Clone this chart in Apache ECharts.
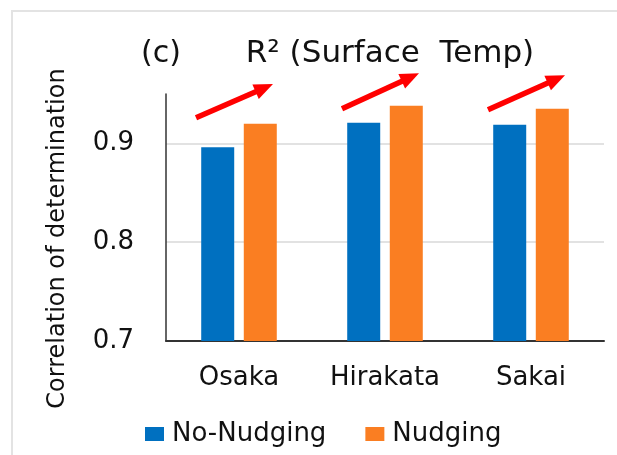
<!DOCTYPE html>
<html>
<head>
<meta charset="utf-8">
<script src="https://cdn.jsdelivr.net/npm/echarts@6/dist/echarts.min.js"></script>
<style>
html,body{margin:0;padding:0;background:#fff;}
#chart{width:617px;height:455px;}
</style>
</head>
<body>
<div id="chart"></div>
<script>
const categories = ['Osaka', 'Hirakata', 'Sakai'];
const noNudging = [0.896, 0.921, 0.919];
const nudging = [0.920, 0.938, 0.935];
const yTicks = [0.7, 0.8, 0.9];
// arrow annotations: start and end values (data units)
const arrowStart = [0.926, 0.935, 0.934];
const arrowEnd = [0.960, 0.971, 0.969];

const FONT = '"DejaVu Sans", "Open Sans", sans-serif';
const chart = echarts.init(document.getElementById('chart'), null, {renderer: 'canvas'});

const option = {
  backgroundColor: '#fff',
  animation: false,
  grid: {left: 166, right: 13, top: 94, bottom: 114},
  title: [
    {text: 'R\u00B2 (Surface  Temp)', left: 385, top: 33, textAlign: 'center',
     textStyle: {fontFamily: FONT, fontSize: 31, fontWeight: 'normal', color: '#111'}},
    {text: '(c)', left: 136, top: 34,
     textStyle: {fontFamily: FONT, fontSize: 30, fontWeight: 'normal', color: '#111'}}
  ],
  legend: {
    left: 140, top: 416, itemWidth: 19, itemHeight: 14, itemGap: 39,
    icon: 'rect',
    textStyle: {fontFamily: FONT, fontSize: 26, color: '#111', padding: [0, 0, 0, 3]},
    data: ['No-Nudging', 'Nudging']
  },
  xAxis: {
    type: 'category', data: categories,
    axisLine: {lineStyle: {color: '#333', width: 2}},
    axisTick: {show: false},
    axisLabel: {fontFamily: FONT, fontSize: 26, color: '#111', margin: 24}
  },
  yAxis: {
    type: 'value', min: 0.7, max: 0.95, interval: 0.1,
    name: 'Correlation of determination', nameLocation: 'middle', nameGap: 96,
    nameTextStyle: {fontFamily: FONT, fontSize: 24, color: '#111', padding: [0, 42, 0, 0]},
    axisLine: {show: true, lineStyle: {color: '#333', width: 1.5}},
    axisTick: {show: false},
    axisLabel: {fontFamily: FONT, fontSize: 26, color: '#111', margin: 32, showMaxLabel: false,
      formatter: v => yTicks.some(t => Math.abs(t - v) < 1e-6) ? v.toFixed(1) : ''},
    splitLine: {show: true, showMinLine: false, showMaxLine: false, lineStyle: {color: '#d9d9d9', width: 1.5}}
  },
  series: [
    {name: 'No-Nudging', type: 'bar', data: noNudging, barWidth: 33, barGap: '29%',
     itemStyle: {color: '#0070C0'}},
    {name: 'Nudging', type: 'bar', data: nudging, barWidth: 33,
     itemStyle: {color: '#FA7E22'}}
  ]
};
chart.setOption(option);

// Decorations: figure border and red arrows (positions derived from axis scales)
function arrowGraphic(i) {
  const c = chart.convertToPixel({gridIndex: 0}, [i, arrowStart[i]]);
  const e = chart.convertToPixel({gridIndex: 0}, [i, arrowEnd[i]]);
  const x1 = c[0] - 43, y1 = c[1];
  const x2 = c[0] + 34, y2 = e[1];
  const dx = x2 - x1, dy = y2 - y1, L = Math.hypot(dx, dy);
  const ux = dx / L, uy = dy / L, px = -uy, py = ux;
  const hl = 19, hw = 8;
  const bx = x2 - ux * hl, by = y2 - uy * hl;
  return [
    {type: 'line', shape: {x1: x1, y1: y1, x2: bx + ux * 2, y2: by + uy * 2},
     style: {stroke: '#FF0000', lineWidth: 5.5}, z: 100},
    {type: 'polygon', shape: {points: [[x2, y2], [bx + px * hw, by + py * hw], [bx - px * hw, by - py * hw]]},
     style: {fill: '#FF0000'}, z: 100}
  ];
}
let g = [{type: 'rect', shape: {x: 12, y: 11, width: 620, height: 460},
          style: {fill: 'none', stroke: '#e3e3e3', lineWidth: 2}, z: -1, silent: true}];
categories.forEach((_, i) => { g = g.concat(arrowGraphic(i)); });
chart.setOption({graphic: g});
</script>
</body>
</html>
